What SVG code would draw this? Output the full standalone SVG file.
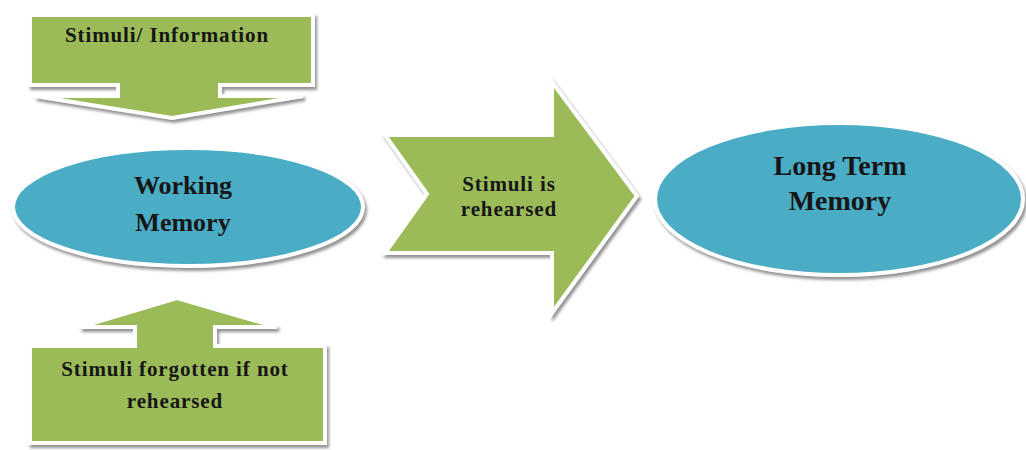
<svg xmlns="http://www.w3.org/2000/svg" width="1026" height="450" viewBox="0 0 1026 450">
  <defs>
    <!-- soft grey drop shadow under the white-rimmed shapes -->
    <filter id="shadow" x="-10%" y="-10%" width="125%" height="130%">
      <feDropShadow dx="2" dy="3" stdDeviation="1.6" flood-color="#7f7f7f" flood-opacity="0.85"/>
    </filter>
  </defs>
  <style>
    .green { fill: #9bbb59; stroke: #ffffff; stroke-width: 4; stroke-linejoin: miter; filter: url(#shadow); }
    .blue  { fill: #4bacc6; stroke: #ffffff; stroke-width: 4; filter: url(#shadow); }
    .lbl   { font-family: "Liberation Serif", "Times New Roman", serif; font-weight: bold; fill: #161616; text-anchor: middle; }
    .sm    { font-size: 21px; letter-spacing: 0.9px; }
    .lg    { font-size: 26px; }
    .xl    { font-size: 28px; }
  </style>
  <rect width="1026" height="450" fill="#ffffff"/>

  <g id="connectors">
    <!-- block arrow between the two memory stores -->
    <g id="rehearsal">
      <path class="green" d="M385,135 H552 V82 L637,196 L552,313 V253 H385 L427,194 Z"/>
      <text class="lbl sm" x="509" y="191">Stimuli is</text>
      <text class="lbl sm" x="509" y="216">rehearsed</text>
    </g>
  </g>

  <!-- incoming stimuli callout pointing down -->
  <g id="stimuli-in">
    <path class="green" d="M30,15 H313 V85 H220 V96 H303 L172,118 L35,96 H118 V85 H30 Z"/>
    <text class="lbl sm" x="167" y="42" letter-spacing="0.8">Stimuli/ Information</text>
  </g>

  <!-- working memory store -->
  <g id="working-memory">
    <ellipse class="blue" cx="188" cy="207" rx="175" ry="59"/>
    <text class="lbl lg" x="183" y="194">Working</text>
    <text class="lbl lg" x="183" y="231">Memory</text>
  </g>

  <!-- forgetting callout pointing up -->
  <g id="stimuli-forgotten">
    <path class="green" d="M177,298 L277,327 H215 V346 H325 V443 H30 V346 H135 V327 H80 Z"/>
    <text class="lbl sm" x="175" y="376">Stimuli forgotten if not</text>
    <text class="lbl sm" x="175" y="408">rehearsed</text>
  </g>

  <!-- long term memory store -->
  <g id="long-term-memory">
    <ellipse class="blue" cx="839" cy="199" rx="184" ry="76"/>
    <text class="lbl xl" x="840" y="175">Long Term</text>
    <text class="lbl xl" x="840" y="210">Memory</text>
  </g>
</svg>
